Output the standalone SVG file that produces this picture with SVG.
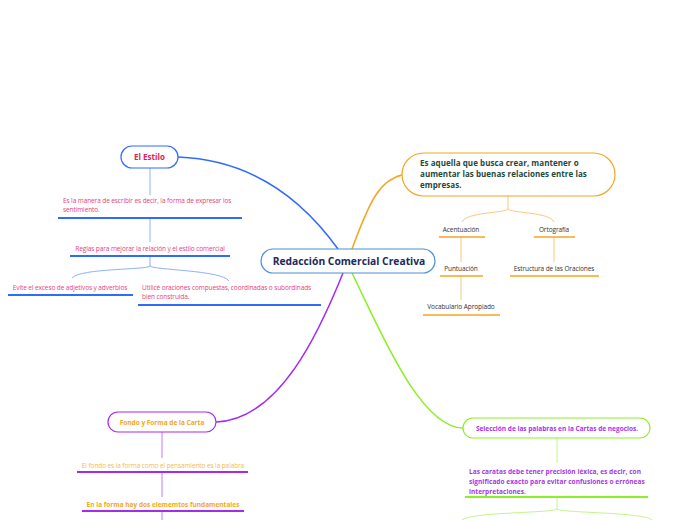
<svg xmlns="http://www.w3.org/2000/svg" width="696" height="520" viewBox="0 0 696 520">
<style>
text{font-family:"Open Sans","Noto Sans","Liberation Sans",sans-serif}
.t{font-size:6.5px;letter-spacing:-0.1px}
.pink{fill:#e8417a}
.grey{fill:#333}
.or{fill:#f5a623}
.pu{fill:#a535e8;font-weight:bold}
.c{text-anchor:middle}
.conn{fill:none}
</style>
<rect width="696" height="520" fill="#fff"/>
<g id="connectors" class="conn">
  <path d="M178,157 C260,160 310,210 338,249" stroke="#2f6bff" stroke-width="1.5"/>
  <path d="M352,249 C370,200 380,180 402,175" stroke="#f5a623" stroke-width="1.5"/>
  <path d="M343,273 C320,330 280,420 216,422" stroke="#a52af0" stroke-width="1.5"/>
  <path d="M352,273 C380,330 420,428 463,428" stroke="#8cef28" stroke-width="1.5"/>
  <g stroke="#8fb0ff" stroke-width="1">
    <path d="M150,168 V195"/>
    <path d="M150,218 V242"/>
    <path d="M150,256 V266 C148,270 80,268 72,278"/>
    <path d="M150,266 C152,270 222,270 229,281"/>
  </g>
  <g stroke="#2f6bff" stroke-width="2">
    <path d="M58,218 H242"/>
    <path d="M70,256 H230"/>
    <path d="M8,295 H133"/>
    <path d="M138,305 H321"/>
  </g>
  <g stroke="#fcc87a" stroke-width="1">
    <path d="M508,196 V209 C506,213 466,212 462,222"/>
    <path d="M508,209 C510,213 550,212 554,222"/>
    <path d="M461,237 V262"/>
    <path d="M554,237 V262"/>
    <path d="M461,276 V300"/>
  </g>
  <g stroke="#f5a623" stroke-width="1.6">
    <path d="M439,237 H485"/>
    <path d="M534,237 H575"/>
    <path d="M440,276 H483"/>
    <path d="M510,276 H599"/>
    <path d="M423,315 H500"/>
  </g>
  <g stroke="#c77af5" stroke-width="1">
    <path d="M162,432 V458"/>
    <path d="M162,472 V497"/>
    <path d="M162,511 V520"/>
  </g>
  <g stroke="#a52af0" stroke-width="2">
    <path d="M77,472 H248"/>
    <path d="M82,511 H244"/>
  </g>
  <g stroke="#c4f58a" stroke-width="1">
    <path d="M557,438 V463"/>
    <path d="M557,497 V509 C555,513 470,512 462,520"/>
    <path d="M557,509 C559,513 645,512 652,520"/>
  </g>
  <path d="M465,497 H648" stroke="#8cef28" stroke-width="2"/>
</g>
<g id="central">
  <rect x="261" y="249" width="174" height="24" rx="12" fill="#fff" stroke="#4a90d9" stroke-width="1.2"/>
  <text x="349" y="265" class="c" font-size="10.3" font-weight="bold" fill="#1b2a5c">Redacción Comercial Creativa</text>
</g>
<g id="estilo">
  <rect x="121" y="146" width="57" height="22" rx="11" fill="#fff" stroke="#2f6bff" stroke-width="1.2"/>
  <text x="149.5" y="160" class="c" font-size="8" font-weight="bold" fill="#e0205a">El Estilo</text>
</g>
<g id="estilo-def">
  <text x="63" y="203" class="t pink">Es la manera de escribir es decir, la  forma de expresar los</text>
  <text x="63" y="212" class="t pink">sentimiento.</text>
</g>
<g id="reglas"><text x="150" y="251" class="t pink c">Reglas para mejorar la relación  y el estilo comercial</text></g>
<g id="evite"><text x="70" y="290" class="t pink c">Evite el exceso de adjetivos y adverbios</text></g>
<g id="utilice">
  <text x="142" y="290" class="t pink">Utilicé oraciones compuestas, coordinadas o subordinads</text>
  <text x="142" y="299" class="t pink">bien construida.</text>
</g>
<g id="aquella">
  <rect x="402" y="153" width="213" height="43" rx="21.5" fill="#fff" stroke="#f5a623" stroke-width="1.2"/>
  <text font-size="8" font-weight="bold" fill="#1c4a3c" letter-spacing="0.05">
    <tspan x="420" y="166">Es aquella que busca crear, mantener o</tspan>
    <tspan x="420" y="177">aumentar las buenas relaciones  entre las</tspan>
    <tspan x="420" y="188">empresas.</tspan>
  </text>
</g>
<g id="acentuacion"><text x="461" y="232" class="t grey c">Acentuación</text></g>
<g id="ortografia"><text x="554" y="232" class="t grey c">Ortografía</text></g>
<g id="puntuacion"><text x="461" y="271" class="t grey c">Puntuación</text></g>
<g id="estructura"><text x="554" y="271" class="t grey c">Estructura de las Oraciones</text></g>
<g id="vocabulario"><text x="461" y="309" class="t grey c">Vocabulario Apropiado</text></g>
<g id="fondo">
  <rect x="108" y="412" width="108" height="20" rx="10" fill="#fff" stroke="#a52af0" stroke-width="1.2"/>
  <text x="162" y="425" class="c or" font-size="6.5" font-weight="bold">Fondo y Forma de la Carta</text>
</g>
<g id="fondo-def"><text x="163" y="468" class="t c" fill="#f8b84e">El fondo es la forma como el pensamiento es la palabra</text></g>
<g id="forma"><text x="163" y="507" class="c or" font-size="6.5" font-weight="bold" letter-spacing="0">En la forma hay dos elememtos fundamentales</text></g>
<g id="seleccion">
  <rect x="463" y="418" width="187" height="20" rx="10" fill="#fff" stroke="#8cef28" stroke-width="1.2"/>
  <text x="557" y="431" class="c pu" font-size="6.5" letter-spacing="0">Selección de las palabras en la Cartas de negocios.</text>
</g>
<g id="caratas">
  <text font-size="6.5" class="pu" letter-spacing="0.05">
    <tspan x="469" y="474">Las caratas debe  tener  precisión léxica, es decir, con</tspan>
    <tspan x="469" y="484">significado exacto para  evitar confusiones o erróneas</tspan>
    <tspan x="469" y="494">interpretaciones.</tspan>
  </text>
</g>
</svg>
